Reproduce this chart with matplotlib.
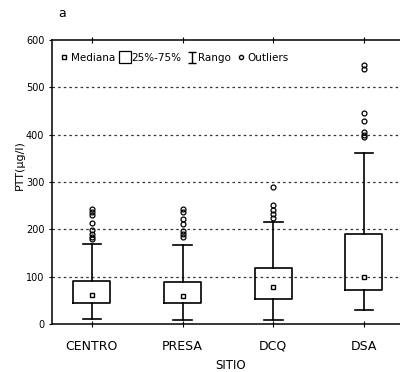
import numpy as np
import matplotlib
matplotlib.use("Agg")
import matplotlib.pyplot as plt
from matplotlib.lines import Line2D

# ── Data ─────────────────────────────────────────────────────────────────────

SITES    = ["CENTRO", "PRESA", "DCQ", "DSA"]
MINS     = [10, 8, 8, 30]
Q1S      = [45, 44, 53, 72]
MEDIANS  = [62, 60, 78, 100]
Q3S      = [90, 88, 118, 190]
MAXS     = [170, 167, 215, 362]
OUTLIERS = [
    [179, 184, 191, 198, 213, 231, 237, 243],
    [183, 190, 196, 212, 222, 236, 243],
    [225, 232, 240, 252, 290],
    [395, 400, 405, 430, 447, 540, 548],
]
YTICKS = [0, 100, 200, 300, 400, 500, 600]
GRID_LEVELS = [100, 200, 300, 400, 500]

plt.rcParams["font.family"] = ["Liberation Sans Narrow", "DejaVu Sans"]

fig = plt.figure(figsize=(4.0, 3.72), dpi=100)
ax = fig.add_axes([0.13, 0.129, 0.893, 0.763])

positions = np.arange(1, len(SITES) + 1)
stats = [dict(med=m, q1=a, q3=b, whislo=lo, whishi=hi, fliers=f, label=s)
         for s, lo, a, m, b, hi, f in zip(SITES, MINS, Q1S, MEDIANS, Q3S, MAXS, OUTLIERS)]

ax.bxp(stats, positions=positions, widths=0.41, showfliers=True,
       boxprops=dict(color="black", lw=1.2),
       whiskerprops=dict(color="black", lw=1.2),
       capprops=dict(color="black", lw=1.2),
       medianprops=dict(lw=0),
       flierprops=dict(marker="o", ms=3.5, mfc="none", mec="black", mew=0.9))
ax.plot(positions, MEDIANS, "s", ms=3.5, mfc="white", mec="black", mew=1.0, zorder=5)

for lev in GRID_LEVELS:
    ax.axhline(lev, color="#333333", lw=0.9, ls=(0, (2, 2.5)), zorder=0)

ax.set_xlim(0.56, 4.5)
ax.set_ylim(0, 600)
ax.set_xticks(positions)
ax.set_xticklabels(SITES, fontsize=9)
ax.set_yticks(YTICKS)
ax.set_yticklabels([str(t) for t in YTICKS], fontsize=7)
ax.tick_params(axis="x", direction="inout", length=5, top=True, pad=9)
ax.tick_params(axis="y", length=2)
ax.spines["right"].set_visible(False)
for sp in ("left", "bottom", "top"):
    ax.spines[sp].set_linewidth(1.1)

ax.set_xlabel("SITIO", fontsize=8.5, labelpad=4)
ax.set_ylabel("PTT(µg/l)", fontsize=8)
ax.yaxis.set_label_coords(-0.075, 0.56)

# legend
h_med = Line2D([], [], ls="none", marker="s", ms=3.5, mfc="white", mec="black")
h_box = Line2D([], [], ls="none", marker="s", ms=9, mfc="white", mec="black", mew=0.9)
h_rng = ax.errorbar([np.nan], [np.nan], yerr=[1], fmt="none", ecolor="black",
                    capsize=3, elinewidth=1)
h_out = Line2D([], [], ls="none", marker="o", ms=3, mfc="none", mec="black")
ax.legend([h_med, h_box, h_rng, h_out], ["Mediana", "25%-75%", "Rango", "Outliers"],
          loc="upper left", bbox_to_anchor=(0.0, 0.98), ncol=4, frameon=False,
          fontsize=7.5, handlelength=0.9, handletextpad=0.2, columnspacing=0.5,
          borderaxespad=0.3)

fig.text(0.145, 0.955, "a", fontsize=9)

fig.savefig("out.png", dpi=100)
